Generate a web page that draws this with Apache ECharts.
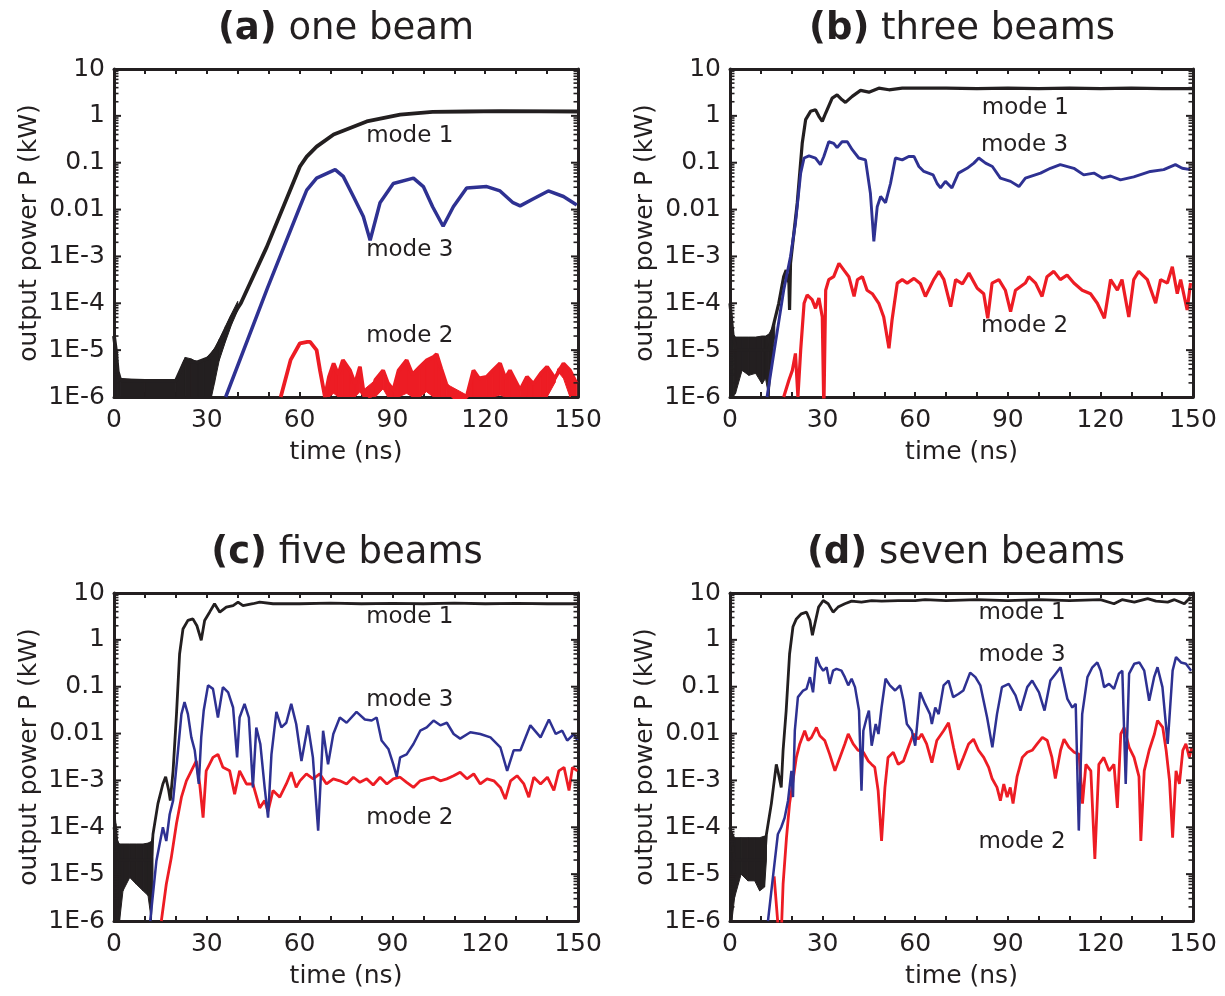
<!DOCTYPE html>
<html><head><meta charset="utf-8">
<script src="https://cdn.jsdelivr.net/npm/echarts@6/dist/echarts.min.js"></script>
<style>html,body{margin:0;padding:0;background:#fff}#c{width:1225px;height:996px}</style>
</head><body><div id="c"></div>
<script>
const xTickLabels = [0, 30, 60, 90, 120, 150];
const yTickValues = [1e-6, 1e-5, 1e-4, 1e-3, 0.01, 0.1, 1, 10];
const yTickLabels = ['1E-6', '1E-5', '1E-4', '1E-3', '0.01', '0.1', '1', '10'];
const yMinorMultipliers = [2, 3, 4, 5, 6, 7, 8, 9];
const panelTags = ['(a)', '(b)', '(c)', '(d)'];
const panelNames = ['one beam', 'three beams', 'five beams', 'seven beams'];
const xAxisName = 'time (ns)';
const yAxisName = 'output power P (kW)';

// ---------- panel (a) one beam ----------
const aMode1Noise = [[0,1e-6,2e-5],[0.6,1e-6,1.2e-5],[1.2,1e-6,3.7e-6],[2,1e-6,2.5e-6],[10,1e-6,2.2e-6],[20,1e-6,2.3e-6],[21.5,1e-6,4e-6],[23,1e-6,7e-6],[25,1e-6,6.5e-6],[27,1e-6,5.5e-6],[29,1e-6,6e-6],[31.5,1e-6,9e-6],[32.5,2e-6,1.1e-5],[34,6e-6,1.7e-5],[36,1.5e-5,3.2e-5],[38,3.5e-5,6e-5],[40,7e-5,1.1e-4]];
const aMode1 = [[0,2e-5],[0.6,1e-5],[1.2,3.5e-6],[2,2.3e-6],[10,2.2e-6],[20,2.2e-6],[23,6e-6],[27,5.5e-6],[31,7e-6],[34,1.3e-5],[38,5e-5],[41,1e-4],[49.4,1.6e-3],[60.1,0.083],[62.3,0.135],[65.5,0.22],[71,0.40],[81.7,0.76],[92.5,1.06],[103,1.22],[114,1.24],[125,1.26],[150,1.24]];
const aMode3 = [[36.1,1e-6],[49.6,2.1e-4],[60.1,0.0115],[62.3,0.026],[65.5,0.047],[71.5,0.071],[74.1,0.051],[77.4,0.019],[80.6,0.0071],[82.8,0.0022],[86,0.014],[90.3,0.036],[96.8,0.047],[100,0.031],[103,0.0115],[106.4,0.0044],[109.7,0.0115],[114,0.029],[120.5,0.031],[124.8,0.025],[129,0.014],[131.3,0.012],[135.6,0.017],[140.4,0.025],[145.3,0.019],[149.6,0.0125]];
const aMode2 = [[53.9,1e-6],[57.1,6.2e-6],[60.1,1.4e-5],[62.5,1.5e-5],[63.4,1.5e-5],[65.5,1.0e-5],[66.6,3.7e-6],[68.2,1e-6],[69.5,2.7e-6],[71,5.2e-6],[72.5,3e-6],[74,6.1e-6],[76.3,3.7e-6],[77.9,1.9e-6],[79.5,4.4e-6],[80.6,1.4e-6],[82.8,1e-6],[84.5,2.3e-6],[87,3.7e-6],[88.5,2e-6],[90.3,1.4e-6],[92,3.7e-6],[94.6,6.1e-6],[96.5,3e-6],[98.9,4.4e-6],[101,6e-6],[103.3,7.2e-6],[104.3,8.2e-6],[105.8,4e-6],[107.4,1.9e-6],[109.7,1e-6],[114,1e-6],[116.2,3.7e-6],[118,2.5e-6],[120.5,2.7e-6],[122.5,3.7e-6],[124.8,5.2e-6],[126.5,2.5e-6],[128,3.7e-6],[131.3,1.4e-6],[133.5,2.7e-6],[135.6,1.9e-6],[138,3.2e-6],[140,4.4e-6],[142.5,2.5e-6],[145.3,5.2e-6],[147.4,3.7e-6],[149.6,1.9e-6]];
const aMode2Noise = [[68.2,1e-6,1.2e-6],[69.5,1e-6,2.7e-6],[71,1.2e-6,5.2e-6],[72.5,1e-6,3e-6],[74,1e-6,6.1e-6],[76.3,1e-6,3.7e-6],[77.9,1e-6,1.9e-6],[79.5,1.3e-6,4.4e-6],[80.6,1e-6,1.4e-6],[84.5,1e-6,2.3e-6],[87,1.5e-6,3.7e-6],[88.5,1e-6,2e-6],[90.3,1e-6,1.4e-6],[92,1e-6,3.7e-6],[94.6,1.2e-6,6.1e-6],[96.5,1e-6,3e-6],[98.9,1e-6,4.4e-6],[101,1.3e-6,6e-6],[103.3,1e-6,7.2e-6],[104.3,1e-6,8.2e-6],[105.8,1e-6,4e-6],[107.4,1e-6,1.9e-6],[114,1e-6,1.1e-6],[116.2,1e-6,3.7e-6],[118,1e-6,2.5e-6],[120.5,1e-6,2.7e-6],[122.5,1e-6,3.7e-6],[124.8,1.1e-6,5.2e-6],[126.5,1e-6,2.5e-6],[128,1e-6,3.7e-6],[131.3,1e-6,1.4e-6],[133.5,1e-6,2.7e-6],[135.6,1e-6,1.9e-6],[138,1e-6,3.2e-6],[140,1e-6,4.4e-6],[142.5,2e-6,2.5e-6],[143.5,3.5e-6,4e-6],[145.3,2.5e-6,5.2e-6],[147.4,1e-6,3.7e-6],[149.6,1e-6,1.9e-6]];
const aLabels = [[95.6,0.37,'mode 1'],[95.6,1.4e-3,'mode 3'],[95.6,2.0e-5,'mode 2']];

// ---------- panel (b) three beams ----------
const bMode1Noise = [[0,1e-6,1.9e-4],[0.5,1e-6,6e-5],[1,1e-6,2.2e-5],[1.8,1.2e-6,1.9e-5],[3.9,3.7e-6,1.9e-5],[6.1,2.9e-6,1.9e-5],[8.3,3.2e-6,1.9e-5],[10.4,1.9e-6,2e-5],[11.5,2.5e-6,2e-5],[12.6,1e-6,2.2e-5],[13.7,8e-6,3e-5],[14.5,2e-5,4e-5]];
const bMode1 = [[0,1e-4],[1,2e-5],[2,1e-5],[12.6,1e-5],[13.7,2.7e-5],[15.8,1e-4],[17.4,3.7e-4],[18.2,5.1e-4],[19.1,2.7e-4],[19.3,7.2e-5],[19.6,7.1e-4],[21.8,0.014],[23.4,0.26],[24.5,0.83],[26.1,1.25],[27.7,1.35],[28.8,0.98],[29.9,0.76],[31,1.15],[33.1,2.4],[34.7,2.8],[36.3,2.2],[37.4,1.94],[39.6,2.6],[42.3,3.5],[45,3.2],[48.2,3.9],[51.5,3.6],[55.8,3.9],[60.1,3.9],[70,3.9],[80,3.8],[90,3.9],[100,3.8],[110,3.9],[120,3.8],[130,3.9],[140,3.8],[150,3.8]];
const bMode3 = [[12.0,1e-6],[14.7,1.4e-5],[17.4,1.9e-4],[19.6,1e-3],[21.2,5.1e-3],[22.9,0.06],[24,0.126],[25.6,0.14],[27.7,0.126],[29.3,0.091],[30.4,0.136],[32,0.28],[33.6,0.26],[34.7,0.21],[36.3,0.28],[38,0.28],[39.6,0.19],[41.7,0.126],[43.9,0.115],[45.5,0.022],[46.6,0.0021],[47.7,0.0115],[48.8,0.019],[50.4,0.014],[52,0.036],[53.6,0.126],[55.8,0.115],[57.9,0.136],[59.6,0.136],[61.2,0.083],[62.8,0.065],[65.8,0.055],[67.1,0.036],[68.2,0.029],[69.8,0.040],[71.9,0.029],[74,0.06],[76.8,0.076],[79,0.098],[80.6,0.126],[82.8,0.098],[85,0.083],[87.6,0.047],[90.9,0.040],[93.6,0.031],[95.7,0.047],[100.6,0.06],[103.8,0.076],[107,0.091],[111.4,0.076],[114.6,0.055],[117.9,0.06],[120.6,0.047],[123.3,0.052],[126.5,0.043],[130.8,0.05],[136.2,0.065],[140.5,0.071],[144.3,0.091],[146.5,0.076],[149.2,0.071]];
const bMode2 = [[17.4,1e-6],[19.1,2.3e-6],[20.2,3.7e-6],[21.2,8.5e-6],[22.0,1e-6],[22.9,1e-5],[24,1e-4],[25,1.5e-4],[26.6,1.2e-4],[27.7,7.8e-5],[28.8,1.3e-4],[29.9,5.1e-5],[30.4,5e-7],[31,1.9e-4],[32,3.2e-4],[33.6,3.7e-4],[35.3,7.1e-4],[36.9,5.1e-4],[38.5,3.7e-4],[40.2,1.4e-4],[41.3,3.2e-4],[42.9,3.7e-4],[44.4,1.9e-4],[46.1,1.6e-4],[48.2,1e-4],[49.8,5.1e-5],[51.5,1.1e-5],[52.5,4.4e-5],[54.2,2.7e-4],[55.8,3.2e-4],[57.4,2.7e-4],[59.6,3.4e-4],[61.7,2.6e-4],[63.3,1.4e-4],[66,3.2e-4],[67.7,4.8e-4],[69.3,3.2e-4],[71.5,8.5e-5],[73.1,3.2e-4],[75.3,2.6e-4],[77.4,4.4e-4],[80.1,2.1e-4],[82.2,1.6e-4],[83.5,4.8e-5],[84.9,2.7e-4],[87.1,3.2e-4],[89.2,1.9e-4],[90.9,6.6e-5],[92.5,1.9e-4],[95.7,2.7e-4],[96.8,3.7e-4],[99,2.7e-4],[101.1,1.4e-4],[102.7,3.7e-4],[104.9,4.8e-4],[107,3.2e-4],[109.2,4e-4],[111.4,2.7e-4],[114.1,1.9e-4],[116.8,1.6e-4],[119,1e-4],[121.3,4.8e-5],[123.3,3.2e-4],[125.5,1.9e-4],[127,3.2e-4],[129.2,5.1e-5],[130.8,3.2e-4],[132.4,4.8e-4],[135.2,3.2e-4],[137.9,1e-4],[139.5,3.2e-4],[141.7,2.7e-4],[143.3,6e-4],[144.9,1.6e-4],[146,3.2e-4],[148.1,7.2e-5],[149.2,2.7e-4]];
const bLabels = [[95.7,1.45,'mode 1'],[95.4,0.24,'mode 3'],[95.4,3.2e-5,'mode 2']];

// ---------- panel (c) five beams ----------
const cMode1Noise = [[0,1e-6,4e-4],[0.6,1e-6,1.2e-4],[1.2,1e-6,5e-5],[1.8,1e-6,4.4e-5],[2.9,4.4e-6,4.4e-5],[5.1,8.5e-6,4.4e-5],[7.2,6.1e-6,4.4e-5],[9.4,4.4e-6,4.4e-5],[11,3.5e-6,4.6e-5],[12.1,1e-6,5e-5],[12.6,1e-5,7e-5]];
const cMode1 = [[0,1e-4],[1.5,2e-5],[12.1,2e-5],[12.6,7.1e-5],[14.2,3.2e-4],[15.8,8.4e-4],[16.7,1.2e-3],[17.7,6.1e-4],[18.2,3.7e-4],[19.1,1.6e-3],[20.2,0.026],[21.2,0.5],[22.3,1.7],[23.9,2.6],[25.5,2.8],[26.8,2.0],[28.2,0.98],[29.3,2.6],[30.9,3.9],[32.5,5.9],[34.2,3.9],[36.3,5.0],[38.5,5.4],[40.1,6.4],[41.7,5.4],[44.9,5.9],[47.1,6.4],[51.4,5.9],[60,5.9],[70,6.1],[80,5.9],[90,6.0],[100,5.9],[110,6.1],[120,5.9],[130,6.0],[140,5.9],[150,5.9]];
const cMode3 = [[11.7,1e-6],[13.7,1.9e-5],[15.8,1e-4],[16.9,5.1e-5],[18,1.9e-4],[19.1,3.7e-4],[20.7,4.4e-3],[21.8,0.026],[22.8,0.047],[23.9,0.026],[25,8.3e-3],[26.1,4.4e-3],[27.4,8.4e-4],[28.2,8.3e-3],[29,0.031],[30.4,0.107],[32,0.09],[33.6,0.022],[35.2,0.098],[36.9,0.076],[38.5,0.036],[39.8,3.1e-3],[40.6,0.022],[42.2,0.043],[43.6,0.022],[44.9,7.1e-4],[46,0.0135],[47.3,6e-3],[48.7,7.1e-4],[49.8,1.6e-4],[50.9,3.6e-3],[52.5,0.029],[54.1,0.0135],[55.7,0.017],[57.3,0.043],[58.9,0.016],[60.6,2.6e-3],[62.7,0.015],[64.3,3.1e-3],[66,8.5e-5],[67.6,0.0115],[69.2,2.2e-3],[70.9,9.8e-3],[73,0.022],[75.2,0.017],[78.4,0.029],[81.1,0.020],[83.3,0.019],[84.9,0.022],[86.5,7.1e-3],[88.7,4.7e-3],[90.3,2.2e-3],[91.4,1.2e-3],[92.5,3.1e-3],[94.6,3.6e-3],[96.8,6e-3],[99,0.0115],[101.1,0.0135],[103.3,0.019],[105.5,0.015],[107.6,0.017],[109.8,9.8e-3],[111.9,7.8e-3],[115.2,0.0107],[118.4,9.8e-3],[121.7,8.3e-3],[124.9,5.1e-3],[127.1,1.6e-3],[129.2,4.4e-3],[131.4,4.4e-3],[134.6,0.015],[137.9,8.3e-3],[140.6,0.02],[142.8,9.8e-3],[144.9,0.0115],[146.5,7.1e-3],[148.7,9.8e-3],[149.8,7.1e-3]];
const cMode2 = [[15.3,1e-6],[16.9,6.1e-6],[18.5,2.2e-5],[20.2,1.2e-4],[21.8,4.4e-4],[23.4,9.8e-4],[25,1.6e-3],[26.6,2.6e-3],[27.7,8.4e-4],[28.8,1.6e-4],[29.8,1.6e-3],[32,3.1e-3],[33.6,3.6e-3],[35.2,1.9e-3],[37.4,1.6e-3],[39,5.1e-4],[40.6,1.6e-3],[42.8,8.4e-4],[44.9,8.4e-4],[47.1,2.6e-4],[48.7,3.7e-4],[49.8,2.2e-4],[51.4,6.1e-4],[53.6,4.4e-4],[55.7,8.4e-4],[57.3,1.5e-3],[58.9,7.1e-4],[60.1,9.8e-4],[62.2,1.38e-3],[64.4,1.08e-3],[66.5,1.38e-3],[68.7,8.4e-4],[70.9,1.08e-3],[73,9.8e-4],[75.2,8.4e-4],[77.4,1.17e-3],[79.5,9.1e-4],[81.7,1.08e-3],[83.8,8e-4],[86,1.17e-3],[88.2,8.4e-4],[90.3,1.08e-3],[92.5,1.17e-3],[94.6,9.1e-4],[96.8,7.1e-4],[99,9.8e-4],[101.1,1.08e-3],[103.3,1.17e-3],[105.5,9.8e-4],[107.6,1.08e-3],[109.8,1.26e-3],[111.9,1.5e-3],[114.1,1.08e-3],[116.3,1.38e-3],[118.4,8.4e-4],[120.6,1.08e-3],[122.8,9.8e-4],[124.9,7.1e-4],[126.5,4e-4],[128.2,9.8e-4],[130.3,1.26e-3],[132.5,8.4e-4],[134.1,4.4e-4],[135.7,1.17e-3],[137.9,8.4e-4],[140.1,1.17e-3],[142.2,6.1e-4],[143.8,1.6e-3],[145.5,1.9e-3],[147.1,6.1e-4],[148.2,1.9e-3],[149.8,1.6e-3]];
const cLabels = [[95.6,3.1,'mode 1'],[95.6,0.052,'mode 3'],[95.6,1.55e-4,'mode 2']];

// ---------- panel (d) seven beams ----------
const dMode1Noise = [[0,1e-6,1.6e-4],[0.6,1e-6,8e-5],[1.5,3.2e-6,6e-5],[3.6,1e-5,6e-5],[5.8,7.2e-6,6e-5],[8,7.2e-6,6e-5],[9.6,4.4e-6,6e-5],[11.2,5.3e-6,6.5e-5],[11.8,2e-5,7e-5]];
const dMode1 = [[0,1e-4],[1.5,2e-5],[11.2,2e-5],[11.8,7.1e-5],[13.4,3.2e-4],[15,2.2e-3],[15.5,1.6e-3],[16.6,7.1e-4],[17.2,4.4e-3],[18.2,0.031],[19.3,0.5],[20.4,1.9],[21.5,2.8],[23.1,3.6],[24.8,3.9],[25.9,2.6],[26.7,1.25],[27.5,2.2],[28.7,5.0],[30.2,6.9],[31.8,5.9],[33.4,3.9],[35,5.0],[37.2,5.9],[39.4,6.7],[42.6,6.4],[45.9,6.9],[49.1,6.7],[54.5,6.9],[60,6.9],[63.2,7.2],[70,6.9],[80,7.2],[90,6.9],[100,7.2],[110,6.9],[120,7.2],[124.4,5.9],[127,7.2],[131,6.4],[135.3,7.6],[138,6.7],[141.8,6.4],[144,7.2],[147.2,5.9],[149.3,8.2]];
const dMode3 = [[12.3,1e-6],[13.9,8.5e-6],[15.5,7.1e-5],[16.6,1e-4],[17.7,1.6e-4],[18.8,3.7e-4],[19.9,1.6e-3],[20.4,4.4e-4],[21,0.0115],[22,0.06],[23.7,0.083],[24.8,0.09],[25.9,0.16],[26.9,0.076],[28,0.43],[29.1,0.28],[30.2,0.22],[31.3,0.26],[32.3,0.115],[33.4,0.22],[34.5,0.24],[36.1,0.22],[37.2,0.16],[38.3,0.107],[39.4,0.148],[40.5,0.098],[41.8,0.031],[42.6,6e-4],[43.2,0.0115],[44.3,0.022],[45,0.031],[45.9,5.5e-3],[47.2,0.016],[48.1,9.8e-3],[49.1,0.036],[50.4,0.148],[51.8,0.107],[53.5,0.083],[55.1,0.107],[56.2,0.05],[57.3,0.016],[58.9,0.0115],[60,5.5e-3],[61.6,0.076],[63.2,0.043],[64.8,0.026],[65.4,0.016],[66.5,0.036],[67.6,0.026],[69.2,0.107],[70.8,0.135],[72.3,0.06],[74,0.07],[75.6,0.083],[77.8,0.2],[79.5,0.16],[81.1,0.107],[83.3,0.022],[85,5.1e-3],[86.5,0.026],[88.1,0.098],[90.3,0.115],[92.5,0.065],[94.1,0.031],[96.3,0.098],[97.9,0.135],[100.1,0.076],[101.9,0.031],[103.8,0.135],[105.5,0.19],[107.1,0.26],[109.3,0.055],[110.9,0.036],[112,0.043],[113,8.5e-5],[114.1,0.026],[115.8,0.16],[117.4,0.26],[119,0.33],[120.1,0.22],[121.2,0.098],[122.8,0.115],[124.4,0.09],[126,0.19],[127.1,0.22],[128.2,8.4e-4],[129.3,0.19],[131,0.31],[132.6,0.33],[134.2,0.22],[135.8,0.05],[137.4,0.16],[138.5,0.26],[140.1,0.098],[141.8,6e-3],[143.4,0.22],[144.5,0.43],[146.1,0.33],[147.7,0.31],[149.4,0.22]];
const dMode2 = [[14.3,9e-6],[15.8,5e-7],[16.6,5e-7],[17.2,6.1e-6],[18.3,6e-5],[19.3,3.2e-4],[20.4,9.8e-4],[21.5,3.1e-3],[22.6,6e-3],[24.2,0.0115],[25.3,7.1e-3],[26.4,8.3e-3],[28,0.0135],[29.1,9e-3],[30.7,7.1e-3],[32.3,3.6e-3],[34,1.6e-3],[35.6,3.1e-3],[37.2,6e-3],[38.3,9.8e-3],[39.9,6e-3],[41.5,4.4e-3],[43.2,4e-3],[44.8,2.6e-3],[45.9,2.2e-3],[46.9,1.9e-3],[48,6e-4],[49.1,5.1e-5],[50.2,7.1e-4],[51.2,3.1e-3],[52.9,4e-3],[54.5,2.2e-3],[56.2,2.6e-3],[57.8,5.1e-3],[59.4,9.8e-3],[61,7.6e-3],[62.1,9.8e-3],[63.7,6e-3],[65.4,2.4e-3],[67,7.1e-3],[69.2,0.0115],[70.8,0.017],[72.4,5.1e-3],[74,1.7e-3],[75.6,3.1e-3],[77.3,6e-3],[78.9,7.6e-3],[80.5,4.4e-3],[82.2,3.1e-3],[83.8,1.9e-3],[84.9,1.1e-3],[86.5,7.1e-4],[87.6,3.7e-4],[88.7,8.4e-4],[89.8,4.4e-4],[90.8,7.1e-4],[91.7,3.2e-4],[93,1.2e-3],[94.7,3.1e-3],[96.3,4e-3],[97.9,4.4e-3],[99.5,6e-3],[101.2,8.3e-3],[102.8,7.1e-3],[104.3,3.1e-3],[105.4,1.1e-3],[107.1,4.4e-3],[108.2,7.6e-3],[109.8,5.1e-3],[111.5,4e-3],[113.1,3.6e-3],[114.2,3.2e-4],[115.3,2.2e-3],[116.9,1.6e-3],[118.2,2.1e-5],[119.5,2.2e-3],[121.1,3.1e-3],[122.8,1.6e-3],[124.4,2.2e-3],[125.5,2.6e-4],[126.6,9.8e-3],[127.7,0.0135],[129.3,5.1e-3],[130.9,3.1e-3],[132.5,1.2e-3],[133.1,5.1e-5],[134.2,1.6e-3],[135.8,4.4e-3],[137.5,9.8e-3],[138.5,0.019],[140.2,0.0135],[141.3,4.4e-3],[142.4,9.8e-4],[143.4,6e-5],[144.5,1.6e-3],[145.6,8.4e-4],[146.7,4.4e-3],[147.7,6e-3],[148.8,3.1e-3],[149.6,5.1e-3]];
const dLabels = [[94.6,3.7,'mode 1'],[94.6,0.47,'mode 3'],[94.6,4.9e-5,'mode 2']];

const panels = [
  {noise: aMode1Noise, m1: aMode1, m2: aMode2, m2noise: aMode2Noise, m3: aMode3, labels: aLabels},
  {noise: bMode1Noise, m1: bMode1, m2: bMode2, m2noise: null, m3: bMode3, labels: bLabels},
  {noise: cMode1Noise, m1: cMode1, m2: cMode2, m2noise: null, m3: cMode3, labels: cLabels},
  {noise: dMode1Noise, m1: dMode1, m2: dMode2, m2noise: null, m3: dMode3, labels: dLabels}
];

// y-axis tick marks (major decades + minor 2..9 within each decade), drawn through the log scale
const yTickMarks = [];
yTickValues.forEach((v, k) => {
  yTickMarks.push([0, v, 1]);
  if (k < yTickValues.length - 1) yMinorMultipliers.forEach(m => yTickMarks.push([0, v * m, 0]));
});

const FONT = 'DejaVu Sans';
const INK = '#231f20', BLUE = '#2e3192', RED = '#ed1c24';
const gridBoxes = [
  {left: 114, top: 69, width: 464, height: 328},
  {left: 730, top: 69, width: 463, height: 328},
  {left: 114, top: 593, width: 464, height: 328},
  {left: 730, top: 593, width: 463, height: 328}
];
const titlePos = [[346, 11], [962, 11], [347, 535], [966, 535]];
const lineW = [3.8, 3.2, 2.8, 2.8];

function yLabel(v) {
  const k = yTickValues.findIndex(t => Math.abs(Math.log10(t) - Math.log10(v)) < 1e-6);
  return k >= 0 ? yTickLabels[k] : '';
}
function xLabel(v) { return xTickLabels.indexOf(Math.round(v)) >= 0 ? String(Math.round(v)) : ''; }

function makeBandRender(color) {
  return function (params, api) {
    const i = params.dataIndexInside;
    if (i >= params.dataInsideLength - 1) return;
    const p = [
      api.coord([api.value(0, i), api.value(1, i)]),
      api.coord([api.value(0, i + 1), api.value(1, i + 1)]),
      api.coord([api.value(0, i + 1), api.value(2, i + 1)]),
      api.coord([api.value(0, i), api.value(2, i)])
    ];
    return {type: 'polygon', shape: {points: p}, style: {fill: color, stroke: color, lineWidth: 1}};
  };
}
function tickRender(params, api) {
  const v = api.value(1);
  const len = api.value(2) ? 7 : 4.5;
  const l = api.coord([0, v]);
  const r = api.coord([150, v]);
  const st = {stroke: INK, lineWidth: api.value(2) ? 2 : 1.6};
  return {type: 'group', children: [
    {type: 'line', shape: {x1: l[0], y1: l[1], x2: l[0] + len, y2: l[1]}, style: st},
    {type: 'line', shape: {x1: r[0] - len, y1: r[1], x2: r[0], y2: r[1]}, style: st}
  ]};
}

const grid = [], xAxis = [], yAxis = [], series = [];
panels.forEach((pn, i) => {
  grid.push(Object.assign({show: false}, gridBoxes[i]));
  const axLine = {show: true, onZero: false, lineStyle: {color: INK, width: 3}};
  xAxis.push({type: 'value', gridIndex: i, min: 0, max: 150, interval: 10, position: 'bottom',
    axisLine: axLine, axisTick: {show: true, inside: true, length: 5, lineStyle: {color: INK, width: 2}},
    axisLabel: {show: true, margin: 11, fontSize: 25, fontFamily: FONT, color: INK, formatter: xLabel},
    splitLine: {show: false}, name: xAxisName, nameLocation: 'middle', nameGap: 43,
    nameTextStyle: {fontSize: 25, fontFamily: FONT, color: INK, verticalAlign: 'top'}});
  xAxis.push({type: 'value', gridIndex: i, min: 0, max: 150, interval: 10, position: 'top',
    axisLine: axLine, axisTick: {show: true, inside: true, length: 5, lineStyle: {color: INK, width: 2}},
    axisLabel: {show: false}, splitLine: {show: false}});
  const yBase = {type: 'log', logBase: 10, gridIndex: i, min: 1e-6, max: 10, interval: 1,
    axisLine: axLine, axisTick: {show: false}, minorTick: {show: false},
    splitLine: {show: false}, minorSplitLine: {show: false}};
  yAxis.push(Object.assign({}, yBase, {position: 'left',
    axisLabel: {show: true, margin: 9, fontSize: 25, fontFamily: FONT, color: INK, formatter: yLabel},
    name: yAxisName, nameLocation: 'middle', nameGap: 72, nameRotate: 90,
    nameTextStyle: {fontSize: 25, fontFamily: FONT, color: INK}}));
  yAxis.push(Object.assign({}, yBase, {position: 'right', axisLabel: {show: false}}));

  const xi = 2 * i, yi = 2 * i;
  series.push({type: 'custom', name: 'y ticks', xAxisIndex: xi, yAxisIndex: yi, renderItem: tickRender,
    data: yTickMarks, encode: {x: 0, y: 1}, clip: false, silent: true, z: 10});
  series.push({type: 'custom', name: 'mode 1 noise', xAxisIndex: xi, yAxisIndex: yi, renderItem: makeBandRender(INK),
    data: pn.noise, encode: {x: 0, y: [1, 2]}, clip: true, silent: true, z: 2});
  series.push({type: 'line', name: 'mode 1', xAxisIndex: xi, yAxisIndex: yi, data: pn.m1, showSymbol: false,
    lineStyle: {color: INK, width: lineW[i]}, itemStyle: {color: INK}, clip: true, silent: true, z: 3});
  if (pn.m2noise) {
    series.push({type: 'custom', name: 'mode 2 noise', xAxisIndex: xi, yAxisIndex: yi, renderItem: makeBandRender(RED),
      data: pn.m2noise, encode: {x: 0, y: [1, 2]}, clip: true, silent: true, z: 4});
  }
  series.push({type: 'line', name: 'mode 2', xAxisIndex: xi, yAxisIndex: yi, data: pn.m2, showSymbol: false,
    lineStyle: {color: RED, width: lineW[i]}, itemStyle: {color: RED}, clip: true, silent: true, z: 4});
  series.push({type: 'line', name: 'mode 3', xAxisIndex: xi, yAxisIndex: yi, data: pn.m3, showSymbol: false,
    lineStyle: {color: BLUE, width: lineW[i] - 0.3}, itemStyle: {color: BLUE}, clip: true, silent: true, z: 5});
  series.push({type: 'scatter', name: 'labels', xAxisIndex: xi, yAxisIndex: yi, data: pn.labels,
    symbolSize: 0, itemStyle: {color: INK, opacity: 1}, silent: true, z: 6,
    label: {show: true, position: 'inside', formatter: p => p.value[2], fontSize: 23, fontFamily: FONT, color: INK, opacity: 1}});
});

const title = panelTags.map((tag, i) => ({
  text: '{b|' + tag + '} ' + panelNames[i], left: titlePos[i][0], top: titlePos[i][1], textAlign: 'center', padding: 0,
  textStyle: {fontFamily: FONT, fontSize: 37, fontWeight: 'normal', color: INK,
    rich: {b: {fontFamily: FONT, fontSize: 37, fontWeight: 'bold', color: INK}}}
}));

const chart = echarts.init(document.getElementById('c'), null, {renderer: 'canvas'});
chart.setOption({animation: false, backgroundColor: '#fff', title, grid, xAxis, yAxis, series, tooltip: {show: false}});
</script></body></html>
